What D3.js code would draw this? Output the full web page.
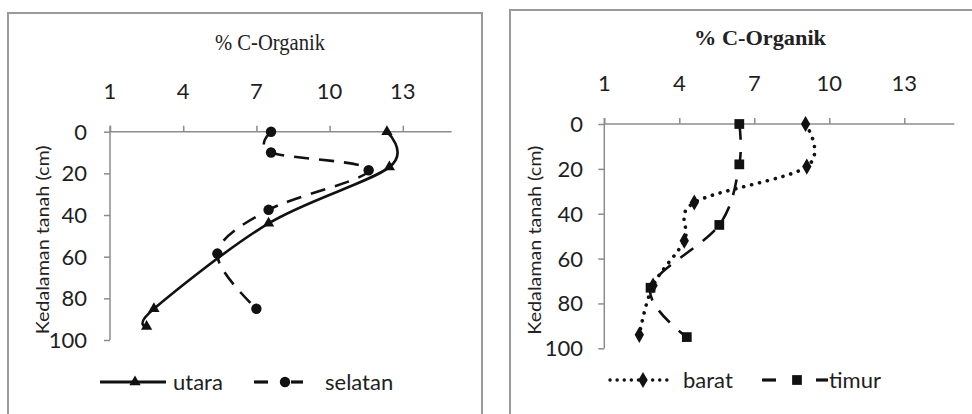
<!DOCTYPE html>
<html>
<head>
<meta charset="utf-8">
<script src="https://cdn.jsdelivr.net/npm/d3@7"></script>
<style>
  body { margin: 0; background: #fff; }
  svg { display: block; }
</style>
</head>
<body>
<script>
// values: [% C-Organik, depth cm]
const utara   = [[12.35, 0], [12.45, 17], [7.5, 44], [2.8, 85], [2.5, 93.5]];
const selatan = [[7.6, 0], [7.6, 10], [11.6, 18.5], [7.5, 37.5], [5.4, 58.5], [7.0, 85]];
const barat   = [[9.05, 0], [9.1, 19], [4.6, 35], [4.2, 52], [2.95, 72], [2.4, 94]];
const timur   = [[6.4, 0], [6.4, 18], [5.6, 45], [2.85, 73], [4.3, 95]];

const xTicks = [1, 4, 7, 10, 13];
const yTicks = [0, 20, 40, 60, 80, 100];
const title = "% C-Organik";
const yTitle = "Kedalaman tanah (cm)";

const svg = d3.select("body").append("svg")
    .attr("width", 972)
    .attr("height", 414);

const panels = [
    {
        box: [8, 13, 474, 410], x0: 110, x1: 451.6, y0: 131.7, y1: 340,
        title: { x: 270, y: 50, size: 23, weight: "normal", len: 110 },
        xLabY: 99, yLabX: 87, yTitleX: 49,
        series: [
            { name: "utara", data: utara, dash: null, marker: "triangle", width: 2.6 },
            { name: "selatan", data: selatan, dash: "15,10", marker: "circle", width: 2.6 }
        ],
        legendY: 382,
        legend: [
            { lx: [100, 166], mx: 135, tx: 173 },
            { lx: [254, 303], mx: 285, tx: 325 }
        ]
    },
    {
        box: [510, 10, 470, 420], x0: 604.3, x1: 954.3, y0: 124, y1: 348.3,
        title: { x: 760, y: 45, size: 21, weight: "bold", len: 132 },
        xLabY: 91, yLabX: 583, yTitleX: 541,
        series: [
            { name: "barat", data: barat, dash: "0.1,8", marker: "diamond", width: 3.6, cap: "round" },
            { name: "timur", data: timur, dash: "16,12", marker: "square", width: 2.6 }
        ],
        legendY: 380,
        legend: [
            { lx: [610, 672], mx: 643, tx: 683 },
            { lx: [762, 828], mx: 797, tx: 829 }
        ]
    }
];

const symbols = {
    triangle: d3.symbol().type(d3.symbolTriangle).size(55),
    circle: d3.symbol().type(d3.symbolCircle).size(85),
    diamond: d3.symbol().type(d3.symbolDiamond).size(75),
    square: d3.symbol().type(d3.symbolSquare).size(95)
};

panels.forEach(p => {
    const g = svg.append("g");

    g.append("rect")
        .attr("x", p.box[0]).attr("y", p.box[1])
        .attr("width", p.box[2]).attr("height", p.box[3])
        .attr("fill", "#fff")
        .attr("stroke", "#9a9a9a")
        .attr("stroke-width", 2);

    const x = d3.scaleLinear().domain([1, 15]).range([p.x0, p.x1]);
    const y = d3.scaleLinear().domain([0, 100]).range([p.y0, p.y1]);

    // title
    g.append("text")
        .attr("x", p.title.x).attr("y", p.title.y)
        .attr("text-anchor", "middle")
        .attr("font-family", "Liberation Serif")
        .attr("font-size", p.title.size)
        .attr("font-weight", p.title.weight)
        .attr("fill", "#222")
        .attr("textLength", p.title.len)
        .attr("lengthAdjust", "spacingAndGlyphs")
        .text(title);

    // x axis along the top (depth 0)
    const xAxis = g.append("g")
        .attr("transform", `translate(0,${p.y0})`)
        .call(d3.axisTop(x).tickValues(xTicks).tickSize(6).tickFormat(""));
    xAxis.select(".domain").attr("d", `M${p.x0},0H${p.x1}`);
    xAxis.selectAll("path,line").attr("stroke", "#8c8c8c").attr("stroke-width", 1.5);

    g.selectAll(".xlab").data(xTicks).join("text")
        .attr("x", d => x(d)).attr("y", p.xLabY)
        .attr("text-anchor", "middle")
        .attr("font-family", "Lato")
        .attr("font-size", 22)
        .attr("fill", "#1e1e1e")
        .text(d => d);

    // y axis
    const yAxis = g.append("g")
        .attr("transform", `translate(${p.x0},0)`)
        .call(d3.axisLeft(y).tickValues(yTicks).tickSize(6).tickFormat(""));
    yAxis.select(".domain").attr("d", `M0,${p.y0 - 6}V${p.y1}`);
    yAxis.selectAll("path,line").attr("stroke", "#8c8c8c").attr("stroke-width", 1.5);

    g.selectAll(".ylab").data(yTicks).join("text")
        .attr("x", p.yLabX).attr("y", d => y(d))
        .attr("dy", "0.36em")
        .attr("text-anchor", "end")
        .attr("font-family", "Lato")
        .attr("font-size", 22)
        .attr("fill", "#1e1e1e")
        .text(d => d);

    const ymid = (p.y0 + p.y1) / 2 + 4;
    g.append("text")
        .attr("transform", `translate(${p.yTitleX},${ymid}) rotate(-90)`)
        .attr("text-anchor", "middle")
        .attr("font-family", "Lato")
        .attr("font-size", 18)
        .attr("fill", "#222")
        .attr("textLength", 189)
        .attr("lengthAdjust", "spacingAndGlyphs")
        .text(yTitle);

    const line = d3.line()
        .x(d => x(d[0]))
        .y(d => y(d[1]))
        .curve(d3.curveCatmullRom.alpha(0));

    p.series.forEach((s, i) => {
        g.append("path")
            .datum(s.data)
            .attr("d", line)
            .attr("fill", "none")
            .attr("stroke", "#111")
            .attr("stroke-width", s.width)
            .attr("stroke-linecap", s.cap || "butt")
            .attr("stroke-dasharray", s.dash);

        g.selectAll(".m" + i).data(s.data).join("path")
            .attr("transform", d => `translate(${x(d[0])},${y(d[1])})`)
            .attr("d", symbols[s.marker])
            .attr("fill", "#111");

        // legend entry
        const L = p.legend[i];
        if (s.marker === "square" || s.marker === "circle") {
            // dash, marker, dash
            g.append("line")
                .attr("x1", L.lx[0]).attr("x2", L.lx[0] + 14)
                .attr("y1", p.legendY).attr("y2", p.legendY)
                .attr("stroke", "#111").attr("stroke-width", 3.2);
            g.append("line")
                .attr("x1", L.lx[1] - 12).attr("x2", L.lx[1])
                .attr("y1", p.legendY).attr("y2", p.legendY)
                .attr("stroke", "#111").attr("stroke-width", 3.2);
        } else {
            g.append("line")
                .attr("x1", L.lx[0]).attr("x2", L.lx[1])
                .attr("y1", p.legendY).attr("y2", p.legendY)
                .attr("stroke", "#111")
                .attr("stroke-width", s.cap ? 3.4 : 3)
                .attr("stroke-linecap", s.cap || "butt")
                .attr("stroke-dasharray", s.cap ? "0.1,7" : null);
        }
        g.append("path")
            .attr("transform", `translate(${L.mx},${p.legendY})`)
            .attr("d", symbols[s.marker])
            .attr("fill", "#111");
        g.append("text")
            .attr("x", L.tx).attr("y", p.legendY)
            .attr("dy", "0.36em")
            .attr("font-family", "Lato")
            .attr("font-size", 22)
            .attr("fill", "#1e1e1e")
            .text(s.name);
    });
});
</script>
</body>
</html>
